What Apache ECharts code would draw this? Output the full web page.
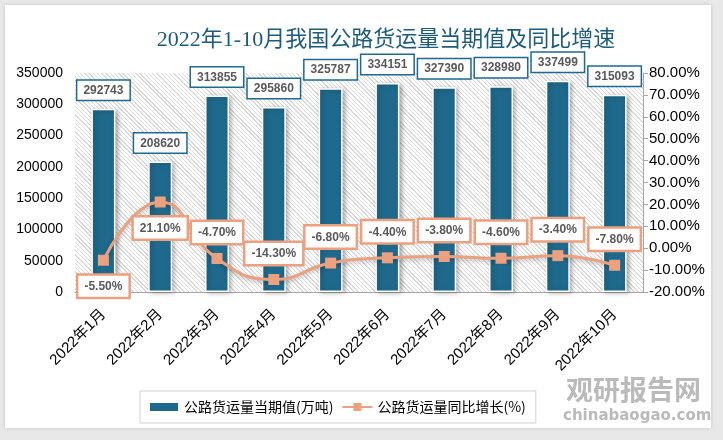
<!DOCTYPE html>
<html><head><meta charset="utf-8">
<script src="https://cdn.jsdelivr.net/npm/echarts@6/dist/echarts.min.js"></script>
<style>
html,body{margin:0;padding:0;background:#e8e8e8;}
#panel{position:absolute;left:5px;top:5px;width:706px;height:423px;background:#fff;box-shadow:0 0 4px rgba(0,0,0,0.15);}
#hatch{position:absolute;left:75px;top:73px;width:568px;height:219px;
  background:repeating-linear-gradient(45deg,#ffffff 0px,#ffffff 2px,#dadada 2px,#dadada 3px);}
#chart{position:absolute;left:0;top:0;width:723px;height:440px;}
</style></head>
<body>
<div id="panel"></div>
<div id="hatch"></div>
<div id="chart"></div>
<script>
const categories = ['2022年1月','2022年2月','2022年3月','2022年4月','2022年5月','2022年6月','2022年7月','2022年8月','2022年9月','2022年10月'];
const volume = [292743, 208620, 313855, 295860, 325787, 334151, 327390, 328980, 337499, 315093];
const growth = [-5.5, 21.1, -4.7, -14.3, -6.8, -4.4, -3.8, -4.6, -3.4, -7.8];
const growthLabelPos = ['bottom','bottom','top','top','top','top','top','top','top','top'];

const chart = echarts.init(document.getElementById('chart'), null, {renderer:'canvas'});
const barColor = '#1f6a8c';
const lineColor = '#eba07f';
chart.setOption({
  animation:false,
  title:{text:'2022年1-10月我国公路货运量当期值及同比增速', left:381, textAlign:'center', top:24,
    textStyle:{fontFamily:'"Liberation Serif","Noto Sans CJK SC",serif', fontSize:22, fontWeight:'normal', color:'#1d5b7a'}},
  grid:{left:75, right:80, top:73, bottom:148},
  legend:{left:140, top:391, width:443, height:34, padding:[9,10,9,8], itemGap:8,
    borderColor:'#d0d0d0', borderWidth:1,
    textStyle:{fontSize:14, color:'#000', fontFamily:'"Noto Sans CJK SC",sans-serif'},
    data:[{name:'公路货运量当期值(万吨)', icon:'rect', itemStyle:{color:barColor}},
          {name:'公路货运量同比增长(%)'}],
    itemWidth:30, itemHeight:10},
  xAxis:{type:'category', data:categories,
    axisLine:{lineStyle:{color:'#a6a6a6'}}, axisTick:{show:false},
    axisLabel:{rotate:45, fontSize:15, color:'#000', margin:20, interval:0,
      fontFamily:'"Liberation Sans","Noto Sans CJK SC",sans-serif'}},
  yAxis:[
    {type:'value', min:0, max:350000, interval:50000,
      axisLine:{show:false}, axisTick:{show:false}, splitLine:{show:false},
      axisLabel:{fontSize:14, color:'#000', margin:12, fontFamily:'"Liberation Sans",sans-serif',
        formatter:v=>String(v)}},
    {type:'value', min:-20, max:80, interval:10, position:'right',
      axisLine:{show:true, lineStyle:{color:'#a6a6a6'}}, axisTick:{show:true, length:5, lineStyle:{color:'#a6a6a6'}},
      splitLine:{show:false},
      axisLabel:{fontSize:15, color:'#000', margin:6, fontFamily:'"Liberation Sans",sans-serif',
        formatter:v=>v.toFixed(2)+'%'}}
  ],
  series:[
    {name:'公路货运量当期值(万吨)', type:'bar', data:volume, barWidth:24,
      itemStyle:{color:barColor, borderColor:'#fff', borderWidth:1.5, shadowColor:'rgba(0,0,0,0.35)', shadowBlur:5, shadowOffsetX:2, shadowOffsetY:1},
      label:{show:true, position:'top', distance:9, fontSize:12, fontWeight:'bold', color:'#595959',
        backgroundColor:'#fff', borderColor:barColor, borderWidth:1.5, padding:[4,6,3,6],
        fontFamily:'"Liberation Sans",sans-serif'}},
    {name:'公路货运量同比增长(%)', type:'line', yAxisIndex:1, smooth:true,
      data:growth.map((v,i)=>({value:v, label:{position:growthLabelPos[i]}})),
      symbol:'rect', symbolSize:11,
      lineStyle:{color:lineColor, width:3, shadowColor:'rgba(0,0,0,0.25)', shadowBlur:4, shadowOffsetY:2},
      itemStyle:{color:lineColor},
      label:{show:true, distance:10, fontSize:12, fontWeight:'bold', color:'#595959',
        backgroundColor:'#fff', borderColor:lineColor, borderWidth:2.5, padding:[5,6,4,6],
        formatter:p=>p.value.toFixed(2)+'%', fontFamily:'"Liberation Sans",sans-serif'}}
  ],
  graphic:[
    {type:'text', left:566, top:376, style:{text:'观研报告网', fontSize:27, fontWeight:'bold', fill:'rgba(140,140,140,0.6)', fontFamily:'"Noto Sans CJK SC",sans-serif'}},
    {type:'text', left:563, top:409, style:{text:'chinabaogao.com', fontSize:15, fontWeight:'bold', fill:'rgba(140,140,140,0.6)', fontFamily:'"DejaVu Sans",sans-serif'}}
  ]
});
</script>
</body></html>
